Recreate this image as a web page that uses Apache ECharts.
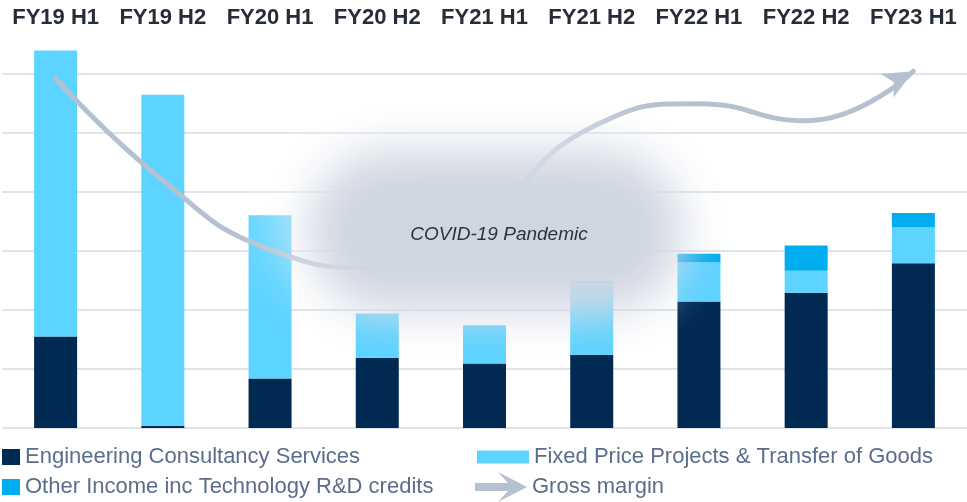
<!DOCTYPE html>
<html>
<head>
<meta charset="utf-8">
<script src="https://cdn.jsdelivr.net/npm/echarts@6/dist/echarts.min.js"></script>
<style>
  html, body { margin: 0; padding: 0; background: #fff; }
  #main { width: 967px; height: 502px; }
</style>
</head>
<body>
<div id="main"></div>
<script>
// half-year periods
var categories = ['FY19 H1', 'FY19 H2', 'FY20 H1', 'FY20 H2', 'FY21 H1', 'FY21 H2', 'FY22 H1', 'FY22 H2', 'FY23 H1'];

// revenue split (one grid step = 1)
var engineering = [1.55, 0.04, 0.84, 1.19, 1.09, 1.24, 2.14, 2.29, 2.79];
var fixedPrice  = [4.84, 5.60, 2.76, 0.75, 0.65, 1.21, 0.66, 0.37, 0.61];
var otherIncome = [0, 0, 0, 0, 0, 0.04, 0.15, 0.43, 0.24];

// gross margin trend (same scale, shape of the arrow)
var grossMargin = [5.92, 4.19, 3.02, 2.71, 3.62, 5.09, 5.49, 5.20, 6.04];

var names = {
  eng: 'Engineering Consultancy Services',
  fixed: 'Fixed Price Projects & Transfer of Goods',
  other: 'Other Income inc Technology R&D credits',
  gm: 'Gross margin'
};

var navy = '#002a52';
var sky = '#5dd3ff';
var cyan = '#00adee';
var slate = '#b5c0d0';
var legendText = { color: '#5a6e8c', fontSize: 22, fontFamily: 'Liberation Sans' };

var chart = echarts.init(document.getElementById('main'));

// last point of the margin line carries the arrow head
var gmData = grossMargin.map(function (v, i) {
  if (i === grossMargin.length - 1) {
    return {
      value: v,
      symbol: 'arrow',
      symbolSize: [20, 30],
      symbolRotate: -61
    };
  }
  return v;
});

// soft blob: shape kept off-canvas, only its blurred shadow shows
var off = 2000;
function blob(z, x, y, w, h, r, color, blur) {
  return {
    type: 'rect', z: z, silent: true,
    shape: { x: x - off, y: y, width: w, height: h, r: r },
    style: { fill: '#fff', shadowColor: color, shadowBlur: blur, shadowOffsetX: off }
  };
}

var option = {
  animation: false,
  backgroundColor: '#fff',
  grid: { left: 2, width: 970, top: 44, bottom: 74 },
  xAxis: {
    type: 'category',
    position: 'top',
    data: categories,
    axisLine: { show: false },
    axisTick: { show: false },
    axisLabel: {
      interval: 0,
      margin: 15,
      color: '#262d38',
      fontSize: 22,
      fontWeight: 'bold',
      fontFamily: 'Liberation Sans'
    }
  },
  yAxis: {
    type: 'value',
    min: 0,
    max: 6.5,
    interval: 1,
    axisLabel: { show: false },
    axisLine: { show: false },
    axisTick: { show: false },
    splitLine: {
      show: true,
      showMaxLine: false,
      lineStyle: { color: '#dfe3ea', width: 2 }
    }
  },
  legend: [
    {
      data: [{ name: names.eng, icon: 'rect' }], left: 2, top: 446, padding: 0,
      itemWidth: 18, itemHeight: 16, textStyle: legendText, selectedMode: false
    },
    {
      data: [{ name: names.other, icon: 'rect' }], left: 2, top: 476, padding: 0,
      itemWidth: 18, itemHeight: 16, textStyle: legendText, selectedMode: false
    },
    {
      data: [{ name: names.fixed, icon: 'rect' }], left: 477, top: 446, padding: 0,
      itemWidth: 52, itemHeight: 13, textStyle: legendText, selectedMode: false
    },
    {
      data: [{ name: names.gm, icon: 'path://M0 11 L33 11 L23 0 L52 15 L23 30 L33 19 L0 19 Z' }],
      left: 475, top: 472, padding: 0, itemWidth: 52, itemHeight: 30,
      textStyle: legendText, selectedMode: false
    }
  ],
  series: [
    {
      name: names.eng, type: 'bar', stack: 'rev', barWidth: 43,
      itemStyle: { color: navy }, data: engineering
    },
    {
      name: names.fixed, type: 'bar', stack: 'rev', barWidth: 43,
      itemStyle: { color: sky }, data: fixedPrice
    },
    {
      name: names.other, type: 'bar', stack: 'rev', barWidth: 43,
      itemStyle: { color: cyan }, data: otherIncome
    },
    {
      name: names.gm, type: 'line', smooth: 0.5, z: 5,
      symbol: 'none', showSymbol: true,
      lineStyle: { color: slate, width: 5, cap: 'round' },
      itemStyle: { color: slate },
      data: gmData
    }
  ],
  graphic: [
    blob(49, 272, 125, 405, 175, 90, 'rgba(255,255,255,0.5)', 55),
    blob(50, 308, 150, 375, 162, 80, 'rgba(207,213,224,0.98)', 45),
    {
      type: 'text',
      z: 60,
      x: 499, y: 235,
      style: {
        text: 'COVID-19 Pandemic',
        fill: '#2c3340',
        fontSize: 19,
        fontStyle: 'italic',
        fontFamily: 'Liberation Sans',
        align: 'center',
        verticalAlign: 'middle'
      }
    }
  ]
};

chart.setOption(option);
</script>
</body>
</html>
